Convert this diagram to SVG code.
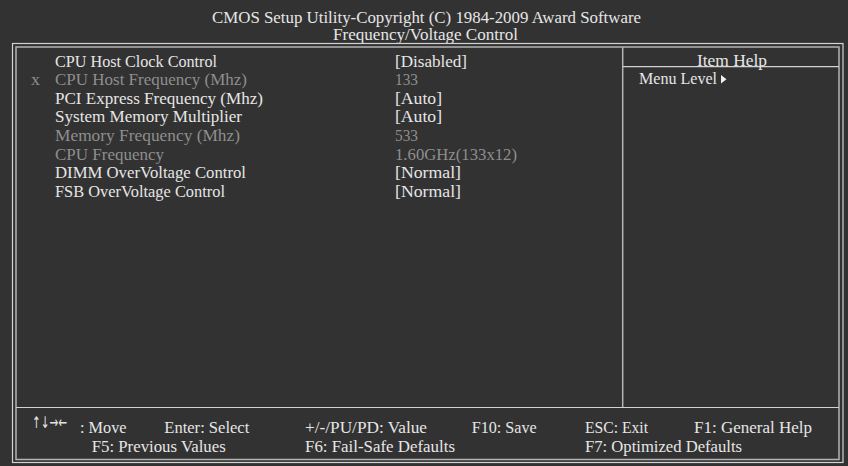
<svg xmlns="http://www.w3.org/2000/svg" width="848" height="466" viewBox="0 0 848 466">
<style>
text{font-family:"Liberation Serif","Times New Roman",serif;font-size:16px;fill:#e6e6e6}
.dim{fill:#8e8e8e}
.ln{fill:none;stroke:#d2d2d2;stroke-width:1.2}
.ln2{fill:none;stroke:#b4b4b4;stroke-width:1.5}
.arr{font-family:"DejaVu Sans",sans-serif;font-size:16px}
</style>
<rect x="0" y="0" width="848" height="466" fill="#323232"/>
<g id="title">
<text x="212" y="23" textLength="429" lengthAdjust="spacingAndGlyphs">CMOS Setup Utility-Copyright (C) 1984-2009 Award Software</text>
<text x="333" y="40" textLength="185" lengthAdjust="spacingAndGlyphs">Frequency/Voltage Control</text>
</g>
<g id="frame">
<rect class="ln" x="12.5" y="43.5" width="830.5" height="419"/>
<rect class="ln2" x="16" y="47" width="823" height="412.5"/>
<line class="ln2" x1="622.7" y1="47" x2="622.7" y2="407.5"/>
<line class="ln" x1="622.7" y1="66.7" x2="839" y2="66.7"/>
<line class="ln" x1="16" y1="407.5" x2="839" y2="407.5"/>
</g>
<g id="items">
<text x="55" y="66.7" textLength="162" lengthAdjust="spacingAndGlyphs">CPU Host Clock Control</text>
<text class="dim" x="31" y="85.2" textLength="9" lengthAdjust="spacingAndGlyphs">x</text>
<text class="dim" x="55" y="85.2" textLength="192" lengthAdjust="spacingAndGlyphs">CPU Host Frequency (Mhz)</text>
<text x="55" y="103.8" textLength="208" lengthAdjust="spacingAndGlyphs">PCI Express Frequency (Mhz)</text>
<text x="55" y="122.4" textLength="187" lengthAdjust="spacingAndGlyphs">System Memory Multiplier</text>
<text class="dim" x="55" y="141" textLength="185" lengthAdjust="spacingAndGlyphs">Memory Frequency (Mhz)</text>
<text class="dim" x="55" y="159.6" textLength="109" lengthAdjust="spacingAndGlyphs">CPU Frequency</text>
<text x="55" y="178.2" textLength="191" lengthAdjust="spacingAndGlyphs">DIMM OverVoltage Control</text>
<text x="55" y="196.8" textLength="170" lengthAdjust="spacingAndGlyphs">FSB OverVoltage Control</text>
</g>
<g id="values">
<text x="395" y="66.7" textLength="72" lengthAdjust="spacingAndGlyphs">[Disabled]</text>
<text class="dim" x="395" y="85.2" textLength="23" lengthAdjust="spacingAndGlyphs">133</text>
<text x="395" y="103.8" textLength="47" lengthAdjust="spacingAndGlyphs">[Auto]</text>
<text x="395" y="122.4" textLength="47" lengthAdjust="spacingAndGlyphs">[Auto]</text>
<text class="dim" x="395" y="141" textLength="23" lengthAdjust="spacingAndGlyphs">533</text>
<text class="dim" x="395" y="159.6" textLength="122" lengthAdjust="spacingAndGlyphs">1.60GHz(133x12)</text>
<text x="395" y="178.2" textLength="66" lengthAdjust="spacingAndGlyphs">[Normal]</text>
<text x="395" y="196.8" textLength="66" lengthAdjust="spacingAndGlyphs">[Normal]</text>
</g>
<g id="help">
<text x="697" y="66" textLength="70" lengthAdjust="spacingAndGlyphs">Item Help</text>
<text x="639" y="83.5" textLength="78" lengthAdjust="spacingAndGlyphs">Menu Level</text>
<polygon points="721,75 726.5,79.2 721,83.5" fill="#f0f0f0"/>
</g>
<g id="footer">
<text class="arr" x="32" y="428" textLength="35" lengthAdjust="spacingAndGlyphs">↑↓→←</text>
<text x="80" y="433" textLength="46.5" lengthAdjust="spacingAndGlyphs">: Move</text>
<text x="164.3" y="433" textLength="85" lengthAdjust="spacingAndGlyphs">Enter: Select</text>
<text x="305" y="433" textLength="122" lengthAdjust="spacingAndGlyphs">+/-/PU/PD: Value</text>
<text x="471.7" y="433" textLength="65" lengthAdjust="spacingAndGlyphs">F10: Save</text>
<text x="585" y="433" textLength="63" lengthAdjust="spacingAndGlyphs">ESC: Exit</text>
<text x="694" y="433" textLength="118" lengthAdjust="spacingAndGlyphs">F1: General Help</text>
<text x="91.7" y="451.7" textLength="134" lengthAdjust="spacingAndGlyphs">F5: Previous Values</text>
<text x="305" y="451.7" textLength="150" lengthAdjust="spacingAndGlyphs">F6: Fail-Safe Defaults</text>
<text x="585" y="451.7" textLength="157" lengthAdjust="spacingAndGlyphs">F7: Optimized Defaults</text>
</g>
</svg>
